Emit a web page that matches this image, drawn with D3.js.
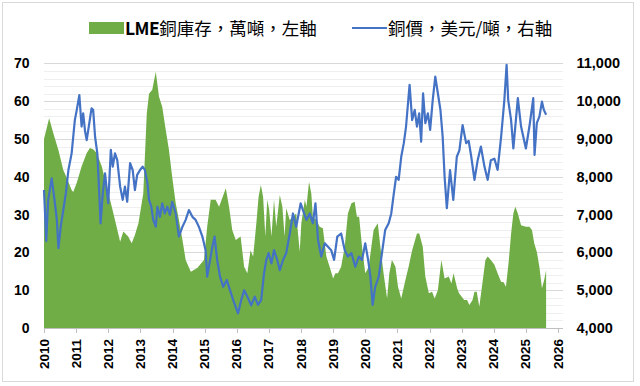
<!DOCTYPE html>
<html>
<head>
<meta charset="utf-8">
<script src="https://cdn.jsdelivr.net/npm/d3@7"></script>
<style>
  html, body { margin: 0; padding: 0; background: #fff; }
  svg { display: block; }
  .tick-label { font-family: "Liberation Sans", Arial, sans-serif; font-weight: bold; fill: #000; }
  .legend-text { font-family: "Noto Sans CJK TC", "Noto Sans CJK SC", sans-serif; fill: #000; }
</style>
</head>
<body>
<div id="chart"></div>
<script>
// LME copper stocks (10k tonnes, left axis) - decimal year / value
const stockYears = [
  2010.00, 2010.16, 2010.29, 2010.45, 2010.60, 2010.71, 2010.86, 2010.91, 2011.02, 2011.17,
  2011.33, 2011.43, 2011.53, 2011.64, 2011.80, 2011.95, 2012.11, 2012.26, 2012.37, 2012.47,
  2012.62, 2012.73, 2012.83, 2012.94, 2013.09, 2013.20, 2013.27, 2013.37, 2013.48, 2013.58,
  2013.68, 2013.79, 2013.89, 2013.99, 2014.10, 2014.20, 2014.31, 2014.41, 2014.57, 2014.77,
  2014.98, 2015.08, 2015.19, 2015.34, 2015.45, 2015.66, 2015.76, 2015.86, 2015.97, 2016.12,
  2016.23, 2016.33, 2016.43, 2016.51, 2016.56, 2016.61, 2016.68, 2016.75, 2016.82, 2016.89,
  2016.95, 2017.01, 2017.08, 2017.16, 2017.23, 2017.34, 2017.42, 2017.49, 2017.54, 2017.65,
  2017.75, 2017.85, 2017.96, 2018.01, 2018.12, 2018.17, 2018.25, 2018.32, 2018.37, 2018.48,
  2018.58, 2018.68, 2018.79, 2018.89, 2019.00, 2019.07, 2019.15, 2019.25, 2019.36, 2019.46,
  2019.57, 2019.67, 2019.74, 2019.81, 2019.90, 2020.00, 2020.11, 2020.19, 2020.26, 2020.39,
  2020.47, 2020.57, 2020.68, 2020.75, 2020.83, 2020.94, 2021.02, 2021.12, 2021.25, 2021.35,
  2021.46, 2021.61, 2021.68, 2021.79, 2021.87, 2021.98, 2022.08, 2022.16, 2022.26, 2022.37,
  2022.47, 2022.60, 2022.68, 2022.75, 2022.86, 2022.92, 2023.08, 2023.17, 2023.24, 2023.34,
  2023.40, 2023.47, 2023.55, 2023.66, 2023.74, 2023.81, 2023.91, 2024.02, 2024.12, 2024.23,
  2024.30, 2024.38, 2024.47, 2024.54, 2024.61, 2024.67, 2024.75, 2024.85, 2025.00, 2025.11,
  2025.19, 2025.26, 2025.34, 2025.42, 2025.50, 2025.57, 2025.63
];
const stockValues = [
  50.0, 55.5, 51.5, 47.0, 41.8, 39.7, 36.5, 36.0, 38.4, 42.7,
  46.3, 47.6, 47.3, 46.3, 42.7, 37.4, 32.1, 26.8, 22.8, 25.5,
  24.2, 22.4, 24.6, 27.7, 35.6, 56.8, 62.0, 63.0, 67.8, 61.2,
  58.5, 52.4, 47.1, 40.0, 33.0, 28.6, 23.3, 18.0, 14.9, 15.9,
  18.0, 26.8, 33.9, 33.9, 32.1, 37.0, 32.1, 25.9, 23.3, 24.2,
  16.2, 14.5, 20.6, 18.9, 23.3, 27.7, 34.7, 37.8, 34.7, 24.2,
  33.9, 31.2, 24.2, 33.9, 26.8, 35.2, 32.1, 24.2, 31.7, 28.6,
  29.4, 30.3, 20.2, 27.7, 33.9, 32.1, 38.7, 35.6, 29.4, 28.6,
  26.8, 26.4, 18.9, 16.2, 13.1, 14.5, 14.5, 16.2, 21.5, 30.3,
  33.0, 33.4, 29.4, 29.4, 21.5, 14.5, 16.2, 21.5, 25.9, 27.7,
  21.5, 14.5, 7.8, 14.5, 18.0, 16.2, 10.9, 7.8, 12.7, 16.2,
  20.6, 25.0, 25.0, 21.5, 13.6, 9.2, 9.6, 7.8, 10.0, 18.0,
  13.1, 13.6, 11.8, 14.5, 10.5, 9.2, 7.4, 7.4, 6.1, 7.4,
  9.6, 9.6, 5.6, 12.7, 18.0, 18.9, 18.0, 16.7, 14.5, 12.2,
  12.2, 10.9, 18.0, 25.0, 30.3, 32.1, 30.3, 27.2, 26.8, 26.8,
  25.9, 22.4, 20.2, 16.2, 10.5, 12.7, 15.3
];

// Copper price (USD/tonne, right axis)
const priceYears = [
  2010.00, 2010.07, 2010.13, 2010.24, 2010.34, 2010.40, 2010.45, 2010.52, 2010.60, 2010.68,
  2010.76, 2010.86, 2010.91, 2010.96, 2011.02, 2011.10, 2011.17, 2011.22, 2011.28, 2011.33,
  2011.41, 2011.48, 2011.53, 2011.59, 2011.66, 2011.72, 2011.76, 2011.83, 2011.90, 2012.00,
  2012.08, 2012.14, 2012.21, 2012.28, 2012.37, 2012.45, 2012.52, 2012.59, 2012.68, 2012.76,
  2012.83, 2012.90, 2012.99, 2013.07, 2013.14, 2013.22, 2013.27, 2013.34, 2013.40, 2013.48,
  2013.53, 2013.61, 2013.68, 2013.76, 2013.84, 2013.92, 2013.99, 2014.10, 2014.20, 2014.31,
  2014.41, 2014.51, 2014.62, 2014.72, 2014.82, 2014.93, 2015.03, 2015.08, 2015.17, 2015.24,
  2015.31, 2015.39, 2015.48, 2015.58, 2015.69, 2015.79, 2015.89, 2016.04, 2016.14, 2016.23,
  2016.33, 2016.45, 2016.56, 2016.66, 2016.76, 2016.85, 2016.92, 2016.99, 2017.08, 2017.16,
  2017.26, 2017.34, 2017.44, 2017.54, 2017.65, 2017.75, 2017.85, 2017.99, 2018.06, 2018.17,
  2018.27, 2018.37, 2018.45, 2018.53, 2018.63, 2018.74, 2018.84, 2018.94, 2019.03, 2019.13,
  2019.25, 2019.36, 2019.46, 2019.57, 2019.69, 2019.80, 2019.90, 2020.00, 2020.09, 2020.16,
  2020.23, 2020.31, 2020.42, 2020.52, 2020.62, 2020.73, 2020.81, 2020.89, 2020.96, 2021.04,
  2021.12, 2021.20, 2021.27, 2021.33, 2021.38, 2021.46, 2021.54, 2021.61, 2021.68, 2021.74,
  2021.80, 2021.87, 2021.95, 2022.02, 2022.10, 2022.18, 2022.26, 2022.34, 2022.41, 2022.47,
  2022.54, 2022.64, 2022.74, 2022.85, 2022.93, 2023.03, 2023.14, 2023.22, 2023.30, 2023.40,
  2023.50, 2023.60, 2023.71, 2023.81, 2023.91, 2024.02, 2024.12, 2024.23, 2024.33, 2024.40,
  2024.45, 2024.54, 2024.61, 2024.75, 2024.85, 2025.00, 2025.11, 2025.23, 2025.27, 2025.34,
  2025.42, 2025.50, 2025.56, 2025.63
];
const priceValues = [
  7650, 6300, 7390, 7960, 7300, 6860, 6110, 6680, 7120, 7560,
  8180, 8620, 9060, 9500, 9770, 10160, 9330, 9680, 9190, 8970,
  9420, 9810, 9770, 9060, 8620, 7560, 6770, 7560, 8090, 7300,
  8710, 8270, 8620, 8440, 7740, 7390, 7740, 7340, 8360, 8180,
  7650, 8050, 8180, 8270, 8180, 7830, 7390, 7210, 6860, 6680,
  7210, 6940, 7300, 7030, 7210, 6990, 7340, 7030, 6420, 6680,
  6860, 7120, 6940, 6860, 6680, 6420, 6060, 5360, 5800, 6150,
  6420, 5800, 5360, 5090, 5270, 5000, 4740, 4390, 4740, 5000,
  4830, 4600, 4830, 4610, 4740, 5450, 5800, 5980, 5710, 6060,
  5800, 5530, 5800, 5980, 6500, 7030, 6680, 7300, 7120, 6860,
  7030, 6770, 7300, 6330, 5890, 6240, 6150, 6060, 5800, 6420,
  6500, 6060, 5890, 5980, 5620, 5890, 5800, 6240, 5800, 5360,
  4610, 5090, 5360, 5980, 6590, 6770, 7030, 7560, 8000, 7920,
  8530, 8890, 9330, 9940, 10430, 9500, 9770, 9330, 9680, 8930,
  10210, 9420, 9680, 9240, 10030, 10650, 10210, 9770, 9060, 8000,
  7170, 8180, 7390, 8530, 8700, 9370, 8890, 8950, 8530, 7920,
  8440, 8800, 8270, 7920, 8440, 8480, 8180, 9060, 10030, 10960,
  10030, 9500, 8750, 10080, 9330, 8750, 9330, 10080, 8580, 9420,
  9590, 9990, 9770, 9640
];

const yearTicks = d3.range(2010, 2027);
const leftTicks = [0, 10, 20, 30, 40, 50, 60, 70];
const rightTicks = [4000, 5000, 6000, 7000, 8000, 9000, 10000, 11000];

const legendStockLatin = "LME";
const legendStock = "銅庫存，萬噸，左軸";
const legendPrice = "銅價，美元/噸，右軸";

const width = 640, height = 386;
const plot = { left: 44, right: 558, rightEdge: 563, top: 63.4, bottom: 328 };

const green = "#70AD47";
const blue = "#4472C4";

const svg = d3.select("#chart").append("svg")
  .attr("width", width)
  .attr("height", height);

svg.append("rect")
  .attr("x", 0).attr("y", 0).attr("width", width).attr("height", height)
  .attr("fill", "#fff");

// chart border
svg.append("rect")
  .attr("x", 2.5).attr("y", 2.5)
  .attr("width", 631).attr("height", 379)
  .attr("fill", "none")
  .attr("stroke", "#d9d9d9");

const x = d3.scaleLinear().domain([2010, 2026]).range([plot.left, plot.right]);
const yL = d3.scaleLinear().domain([0, 70]).range([plot.bottom, plot.top]);
const yR = d3.scaleLinear().domain([4000, 11000]).range([plot.bottom, plot.top]);

// minor grid every 2 units, major every 10
const minor = d3.range(0, 71, 2).filter(v => v % 10 !== 0);
svg.append("g").selectAll("line")
  .data(minor)
  .join("line")
  .attr("x1", plot.left).attr("x2", plot.rightEdge)
  .attr("y1", d => Math.round(yL(d)) + 0.5)
  .attr("y2", d => Math.round(yL(d)) + 0.5)
  .attr("stroke", "#efefef");

svg.append("g").selectAll("line")
  .data(leftTicks.slice(1))
  .join("line")
  .attr("x1", plot.left).attr("x2", plot.rightEdge)
  .attr("y1", d => Math.round(yL(d)) + 0.5)
  .attr("y2", d => Math.round(yL(d)) + 0.5)
  .attr("stroke", "#d9d9d9");

// stock area
const stockData = stockYears.map((t, i) => ({ t, v: stockValues[i] }));
const area = d3.area()
  .x(d => x(d.t))
  .y0(yL(0))
  .y1(d => yL(d.v));

svg.append("path")
  .datum(stockData)
  .attr("d", area)
  .attr("fill", green);

// price line
const priceData = priceYears.map((t, i) => ({ t, v: priceValues[i] }));
const line = d3.line()
  .x(d => x(d.t))
  .y(d => yR(d.v));

svg.append("path")
  .datum(priceData)
  .attr("d", line)
  .attr("fill", "none")
  .attr("stroke", blue)
  .attr("stroke-width", 2.2)
  .attr("stroke-linejoin", "round");

// x axis
const xAxis = svg.append("g")
  .attr("transform", `translate(0,${plot.bottom})`);
xAxis.append("line")
  .attr("x1", plot.left).attr("x2", plot.rightEdge)
  .attr("y1", 0.5).attr("y2", 0.5)
  .attr("stroke", "#bfbfbf");
xAxis.selectAll(".tk")
  .data(yearTicks)
  .join("line")
  .attr("class", "tk")
  .attr("x1", d => Math.round(x(d)) + 0.5)
  .attr("x2", d => Math.round(x(d)) + 0.5)
  .attr("y1", 0).attr("y2", 5)
  .attr("stroke", "#bfbfbf");
xAxis.selectAll("text")
  .data(yearTicks)
  .join("text")
  .attr("class", "tick-label")
  .attr("transform", d => `translate(${x(d) + 4.5},11) rotate(-90)`)
  .attr("text-anchor", "end")
  .style("font-size", "13.5px")
  .text(d3.format("d"));

// left axis labels
svg.append("g").selectAll("text")
  .data(leftTicks)
  .join("text")
  .attr("class", "tick-label")
  .attr("x", 29.5)
  .attr("y", d => yL(d) + 5)
  .attr("text-anchor", "end")
  .style("font-size", "14px")
  .text(d => d);

// right axis labels
svg.append("g").selectAll("text")
  .data(rightTicks)
  .join("text")
  .attr("class", "tick-label")
  .attr("x", 576.5)
  .attr("y", d => yR(d) + 5)
  .attr("text-anchor", "start")
  .style("font-size", "14.5px")
  .text(d3.format(","));

// legend
const lg = svg.append("g");
lg.append("rect")
  .attr("x", 89).attr("y", 22)
  .attr("width", 35).attr("height", 12)
  .attr("fill", green);
const t1 = lg.append("text")
  .attr("class", "legend-text")
  .attr("x", 125).attr("y", 34.5)
  .style("font-size", "17.5px");
t1.append("tspan").attr("font-weight", "bold").style("letter-spacing", "-0.5px").text(legendStockLatin);
t1.append("tspan").text(legendStock);
lg.append("line")
  .attr("x1", 352).attr("x2", 387)
  .attr("y1", 28).attr("y2", 28)
  .attr("stroke", blue)
  .attr("stroke-width", 2.2);
lg.append("text")
  .attr("class", "legend-text")
  .attr("x", 388).attr("y", 34.5)
  .style("font-size", "17.5px")
  .text(legendPrice);
</script>
</body>
</html>
